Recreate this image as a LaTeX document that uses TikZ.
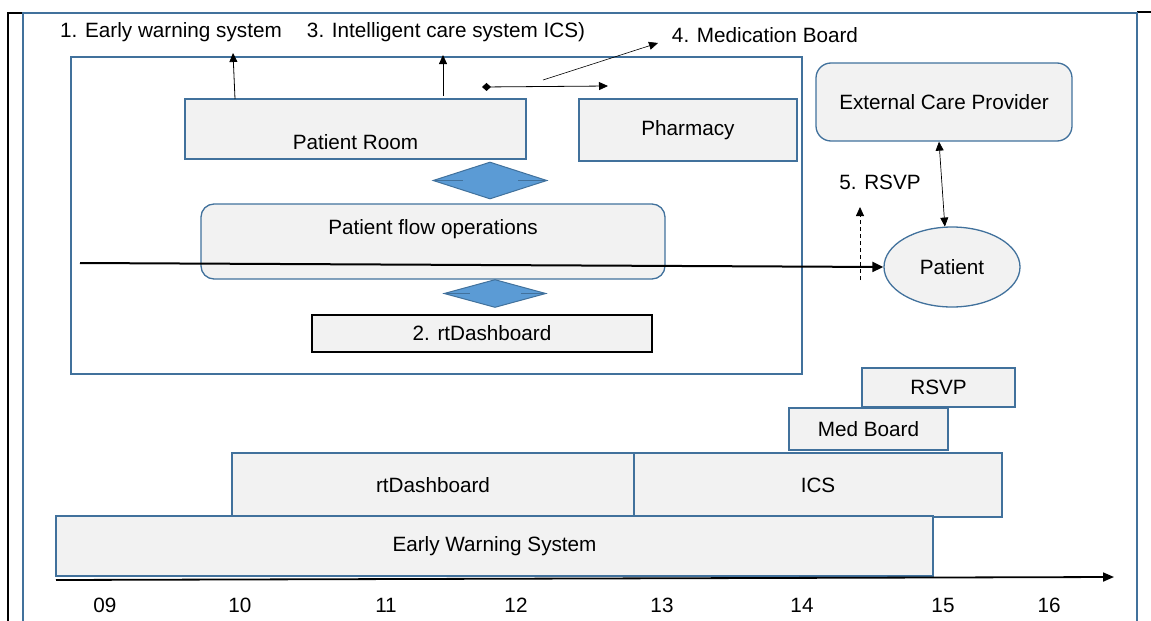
\documentclass[tikz,border=0pt]{standalone}
\usepackage{fontspec}
\setmainfont{Liberation Sans}
\usetikzlibrary{shapes.geometric,arrows.meta}
\definecolor{bstroke}{HTML}{41719C}
\definecolor{bfill}{HTML}{F2F2F2}
\definecolor{dfill}{HTML}{5B9BD5}
\tikzset{
  every node/.style={font=\fontsize{20.7}{24}\selectfont},
  box/.style={draw=bstroke, fill=bfill, line width=1.3pt, inner sep=0pt},
  rbox/.style={box, rounded corners=13pt},
  blkbox/.style={draw=black, fill=bfill, line width=1.4pt, inner sep=0pt},
  dia/.style={diamond, draw=bstroke, fill=dfill, line width=1pt, inner sep=0pt, shape aspect=3},
  diamark/.style={draw=bstroke, line width=1.2pt},
  arr/.style={-{Triangle[length=9pt,width=8pt]}, line width=0.8pt},
  lbl/.style={inner sep=0pt},
}
\begin{document}
\begin{tikzpicture}[x=1pt,y=-1pt]
\useasboundingbox (0,0) rectangle (1151,621);
% frames
\draw[line width=2pt] (8,621) -- (8,13) -- (23,13);
\draw[line width=2pt] (1137,12) -- (1151,12);
\draw[bstroke, line width=1.5pt] (23,621) -- (23,13) -- (1137,13) -- (1137,621);
% hospital frame
\node[draw=bstroke, line width=1.3pt, minimum width=731pt, minimum height=317pt, inner sep=0pt] (hosp) at (436.5,215.5) {};
% boxes
\node[box, minimum width=341pt, minimum height=60pt,
      label={[lbl, yshift=-13pt]center:Patient Room}] (room) at (355.5,129) {};
\node[box, minimum width=218pt, minimum height=62pt] (pharm) at (688,130) {Pharmacy};
\node[dia, minimum width=114pt, minimum height=37pt] (d1) at (490,180.5) {};
\draw[diamark] (d1.west) -- ++(30,0);
\draw[diamark] (d1.east) -- ++(-30,0);
\node[rbox, minimum width=464pt, minimum height=75pt,
      label={[lbl, yshift=12pt]center:Patient flow operations}] (pfo) at (433,241.5) {};
\node[dia, minimum width=102pt, minimum height=28pt] (d2) at (495,293.5) {};
\draw[diamark] (d2.west) -- ++(26,0);
\draw[diamark] (d2.east) -- ++(-26,0);
\node[blkbox, minimum width=340pt, minimum height=37pt] (dash) at (482,333.5) {2. rtDashboard};
\node[rbox, rounded corners=15pt, minimum width=256pt, minimum height=78pt] (ecp) at (944,102) {External Care Provider};
\node[ellipse, draw=bstroke, fill=bfill, line width=1.3pt, minimum width=136pt, minimum height=80pt, inner sep=0pt] (pat) at (952,267) {Patient};
% top labels
\node[lbl] (l1) at (171,32) {1. Early warning system};
\node[lbl] (l3) at (446,32) {3. Intelligent care system ICS)};
\node[lbl] (l4) at (765,35) {4. Medication Board};
\node[lbl] (l5) at (880,182) {5. RSVP};
% arrows
\coordinate (a1s) at (235,99);
\coordinate (a1e) at (233,53);
\draw[arr] (a1s) -- (a1e);
\coordinate (a3s) at (443,96);
\coordinate (a3e) at (443,55);
\draw[arr] (a3s) -- (a3e);
\coordinate (a2s) at (482,87);
\coordinate (a2e) at (608,86);
\draw[{Diamond[length=9pt,width=8pt]}-{Triangle[length=9pt,width=8pt]}, line width=0.8pt] (a2s) -- (a2e);
\coordinate (a4s) at (543,80);
\coordinate (a4e) at (658,43);
\draw[arr, line width=0.6pt] (a4s) -- (a4e);
\coordinate (e1) at ([xshift=-5pt]ecp.south);
\draw[{Triangle[length=9pt,width=8pt]}-{Triangle[length=9pt,width=8pt]}, line width=0.7pt] (e1) -- (pat.100);
\coordinate (ds) at (860,280);
\coordinate (de) at (860,207);
\draw[arr, dashed, dash pattern=on 4pt off 3pt] (ds) -- (de);
\coordinate (flow) at (80,263);
\draw[-{Triangle[length=11pt,width=10pt]}, line width=2pt] (flow) -- (pat.west);
% timeline
\node[box, minimum width=153pt, minimum height=39pt] (t5) at (938.5,387.5) {RSVP};
\node[box, minimum width=159pt, minimum height=42pt] (t4) at (868.5,429) {Med Board};
\node[box, minimum width=402pt, minimum height=64pt] (t2) at (433,485) {rtDashboard};
\node[box, minimum width=368pt, minimum height=64pt] (t3) at (818,485) {ICS};
\node[box, minimum width=877pt, minimum height=60pt] (t1) at (494.5,546) {Early Warning System};
\coordinate (ax0) at (56,580);
\coordinate (ax1) at (1114,577);
\draw[-{Triangle[length=11pt,width=9pt]}, line width=1.8pt] (ax0) -- (ax1);
\foreach \t/\x in {09/105,10/240,11/386,12/516,13/662,14/802,15/943,16/1049}
  \node[lbl] (tick\t) at (\x,605) {\t};
\end{tikzpicture}
\end{document}
